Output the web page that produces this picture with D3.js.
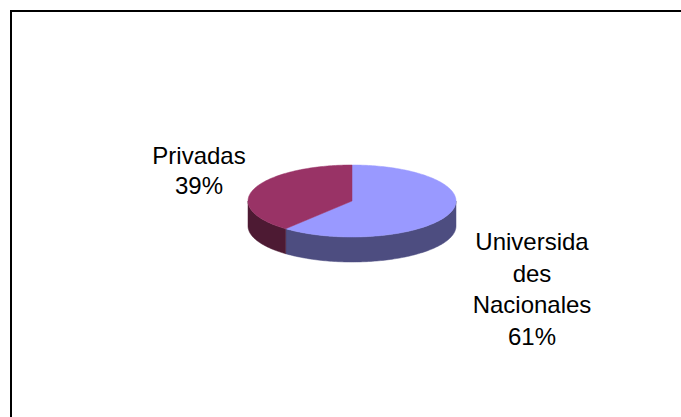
<!DOCTYPE html>
<html>
<head>
<meta charset="utf-8">
<script src="https://cdn.jsdelivr.net/npm/d3@7"></script>
<style>
  html, body { margin: 0; padding: 0; background: #fff; }
  svg { display: block; }
</style>
</head>
<body>
<svg id="chart" width="681" height="417"></svg>
<script>
// Data
const categories = ["Universidades Nacionales", "Privadas"];
const values = [61, 39];
const labelLines = [["Universida", "des", "Nacionales", "61%"], ["Privadas", "39%"]];
const topColors = ["#9999FF", "#993366"];
const sideColors = ["#4D4D80", "#4D1A33"];

const svg = d3.select("#chart");
const W = 681, H = 417;

// Frame (extends beyond the window on right and bottom)
svg.append("rect")
  .attr("x", 11).attr("y", 11)
  .attr("width", 720).attr("height", 460)
  .attr("fill", "none").attr("stroke", "#000").attr("stroke-width", 2);

const cx = 352, cy = 201, rx = 104, ry = 36, depth = 25;

const pie = d3.pie().sort(null).value(d => d)(values);

const px = a => cx + rx * Math.sin(a);
const py = a => cy - ry * Math.cos(a);

function arcPts(a0, a1, dy) {
  const n = Math.max(2, Math.ceil(Math.abs(a1 - a0) / 0.02));
  const s = d3.scaleLinear().domain([0, n]).range([a0, a1]);
  return d3.range(n + 1).map(i => [px(s(i)), py(s(i)) + dy]);
}

const line = d3.line();
const g = svg.append("g");

// Side faces (visible front half: angles between PI/2 and 3PI/2)
pie.forEach((p, i) => {
  const a0 = Math.max(p.startAngle, Math.PI / 2);
  const a1 = Math.min(p.endAngle, 3 * Math.PI / 2);
  if (a1 <= a0) return;
  const topPts = arcPts(a0, a1, 0);
  const botPts = arcPts(a1, a0, depth);
  g.append("path")
    .attr("d", line(topPts.concat(botPts)) + "Z")
    .attr("fill", sideColors[i])
    .attr("stroke", sideColors[i]).attr("stroke-width", 0.5);
});

// Top faces
pie.forEach((p, i) => {
  const pts = [[cx, cy]].concat(arcPts(p.startAngle, p.endAngle, 0));
  g.append("path")
    .attr("d", line(pts) + "Z")
    .attr("fill", topColors[i])
    .attr("stroke", topColors[i]).attr("stroke-width", 0.5);
});

// Labels
const labelPos = [{x: 532, y: 250, lh: 31.7}, {x: 199, y: 164, lh: 30}];
labelLines.forEach((lines, i) => {
  const t = svg.append("text")
    .attr("font-family", "'Liberation Sans', Arial, sans-serif")
    .attr("font-size", 24)
    .attr("fill", "#000")
    .attr("text-anchor", "middle");
  lines.forEach((ln, j) => {
    t.append("tspan")
      .attr("x", labelPos[i].x)
      .attr("y", labelPos[i].y + j * labelPos[i].lh)
      .text(ln);
  });
});
</script>
</body>
</html>
